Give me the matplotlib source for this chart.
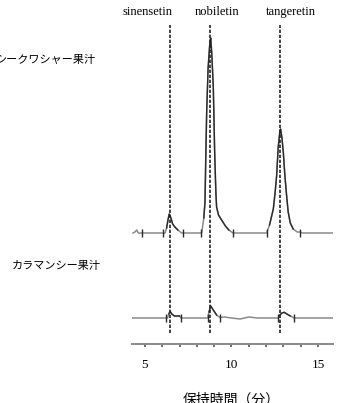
import numpy as np
import matplotlib.pyplot as plt

plt.rcParams['font.family'] = ['Noto Sans CJK JP', 'DejaVu Sans']

compuestos = ["sinensetin", "nobiletin", "tangeretin"]
t_ref      = [6.45, 8.76, 12.80]          # lineas punteadas
muestras   = ["シークワシャー果汁", "カラマンシー果汁"]

t_sup = [4.31, 4.42, 4.52, 4.62, 4.81, 6.10, 6.16, 6.25, 6.33, 6.40, 6.50, 6.60, 6.73,
         6.90, 7.12, 8.28, 8.40, 8.47, 8.52, 8.57, 8.65, 8.75, 8.80, 8.86, 8.95, 9.03,
         9.10, 9.14, 9.25, 9.43, 9.65, 9.85, 10.09, 12.03, 12.20, 12.42, 12.52, 12.61,
         12.70, 12.80, 12.84, 12.92, 13.00, 13.09, 13.20, 13.28, 13.40, 13.57, 13.80,
         13.96, 14.10, 15.87]
h_sup = [0, 1, 3, 0, 0, 0, 0, 5, 13, 19, 15, 9, 6,
         3, 0, 0, 15, 31, 80, 123, 165, 190, 195, 180, 146, 80,
         40, 26, 18, 13, 7, 3, 0, 0, 8, 24, 40, 57,
         85, 102, 104, 95, 80, 57, 35, 21, 10, 4, 1,
         1, 0, 0]
marcas_sup = [4.81, 6.06, 7.17, 8.22, 10.09, 12.03, 13.96]

t_inf = [4.20, 6.20, 6.30, 6.38, 6.45, 6.55, 6.70, 7.00, 7.08, 8.62, 8.70, 8.80, 8.95,
         9.14, 9.34, 9.60, 10.00, 10.50, 11.00, 11.50, 12.71, 12.80, 12.92, 13.05,
         13.20, 13.40, 13.63, 15.87]
h_inf = [0, 0, 0, 4, 6.6, 4, 2, 2, 0, 0, 6, 12, 8,
         3, 0.5, 1, 0, -1, 1, 0, 0, 3, 5, 5.7,
         4, 2, 0, 0]
marcas_inf = [6.20, 7.08, 8.62, 9.34, 12.71, 13.63]

base_sup = 111
base_inf = 26

ticks_x  = list(range(5, 16))
etiq_x   = ["5", "", "", "", "", "10", "", "", "", "", "15"]

fig = plt.figure(figsize=(3.39, 4.03), dpi=100)
ax = fig.add_axes([132/339, 59/403, 201/339, 344/403])
ax.set_xlim(4.25, 15.87)
ax.set_ylim(0, 344)

def traza(t, h, base, marcas):
    t = np.array(t)
    h = np.array(h, dtype=float)
    ax.plot(t, base + h, color="#8a8a8a", lw=1.1, zorder=2)
    pico = np.ma.masked_where(h <= 1.5, h)
    ax.plot(t, base + pico, color="#2a2a2a", lw=1.0, zorder=3)
    ax.vlines(marcas, base - 4, base + 4, color="#2a2a2a", lw=1.0, zorder=3)

traza(t_sup, h_sup, base_sup, marcas_sup)
traza(t_inf, h_inf, base_inf, marcas_inf)

ax.vlines(t_ref, 11, 319, color="#222222", lw=1.2, linestyles=(0, (2, 1)), zorder=4)

pos_txt = [5.17, 9.16, 13.44]
for nombre, xt in zip(compuestos, pos_txt):
    ax.text(xt, 332, nombre, ha="center", va="center", fontsize=9,
            family="Liberation Serif")

for s in ["top", "right", "left"]:
    ax.spines[s].set_visible(False)
ax.spines["bottom"].set_color("#8a8a8a")
ax.spines["bottom"].set_linewidth(1.4)
ax.set_yticks([])
ax.set_xticks(ticks_x)
ax.set_xticklabels(etiq_x, family="Liberation Serif", fontsize=9.5)
ax.tick_params(axis="x", length=2, width=1.2, color="#555555", pad=9)

fig.text(-4/339, 1 - 60/403, muestras[0], ha="left", va="center", fontsize=8)
fig.text(12/339, 1 - 266/403, muestras[1], ha="left", va="center", fontsize=8)
fig.text(231/339, 1 - 400/403, "保持時間（分）", ha="center", va="center", fontsize=10)

fig.savefig("out.png", dpi=100)
